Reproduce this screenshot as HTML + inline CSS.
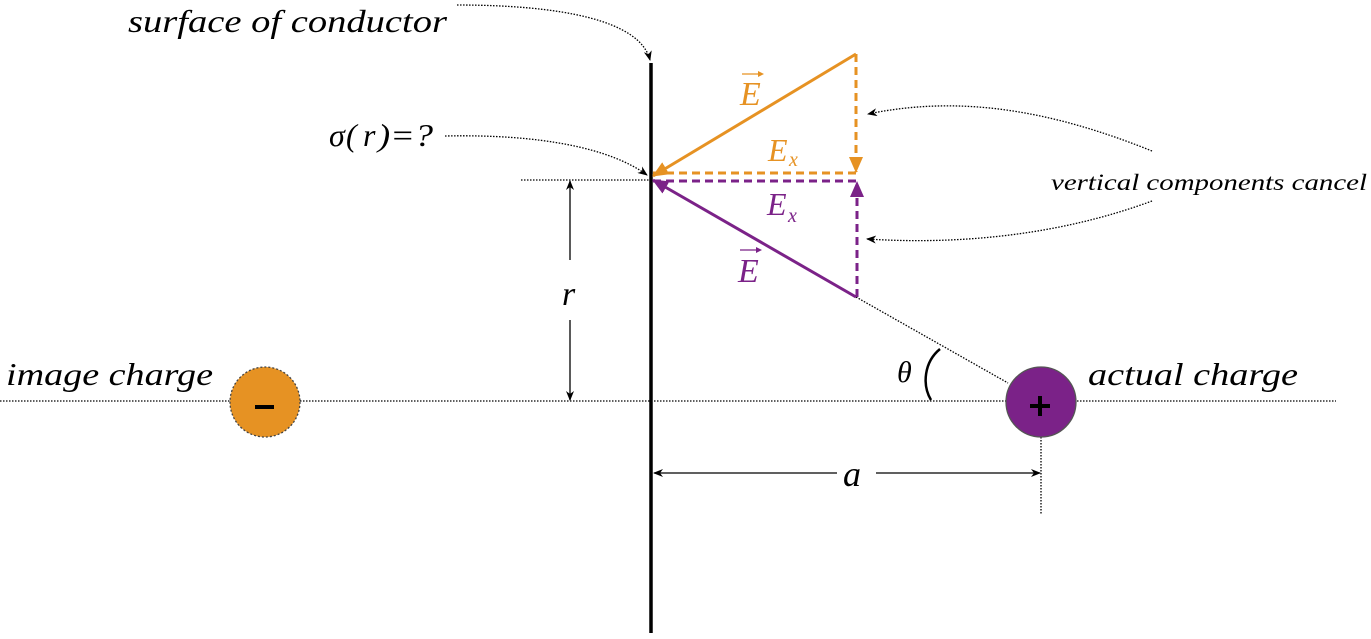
<!DOCTYPE html>
<html><head><meta charset="utf-8"><style>
html,body{margin:0;padding:0;background:#fff;}
svg{display:block;}
text{font-family:"Liberation Serif",serif;font-style:italic;}
</style></head><body>
<svg width="1371" height="639" viewBox="0 0 1371 639" xmlns="http://www.w3.org/2000/svg">
<defs>
<marker id="ab" markerWidth="10" markerHeight="8" refX="9" refY="4" orient="auto" markerUnits="userSpaceOnUse"><path d="M0,0 L10,4 L0,8 L3,4 z" fill="#000"/></marker>
<marker id="ao" markerWidth="16" markerHeight="14" refX="15" refY="7" orient="auto" markerUnits="userSpaceOnUse"><path d="M0,0 L16,7 L0,14 z" fill="#e69223"/></marker>
<marker id="ap" markerWidth="16" markerHeight="14" refX="15" refY="7" orient="auto" markerUnits="userSpaceOnUse"><path d="M0,0 L16,7 L0,14 z" fill="#7b2288"/></marker>
</defs>
<g stroke="#000" stroke-width="1.3" stroke-dasharray="1.5,1.5" fill="none">
<line x1="0" y1="401" x2="1336" y2="401"/>
<line x1="521" y1="180" x2="651" y2="180"/>
<line x1="856" y1="297" x2="1008" y2="383"/>
<line x1="1041" y1="428" x2="1041" y2="515"/>
<path d="M457,5 C560,5 640,20 650,60" marker-end="url(#ab)"/>
<path d="M445,136 C540,134 610,148 647,175" marker-end="url(#ab)"/>
<path d="M1152,151 C1050,110 960,95 868,114" marker-end="url(#ab)"/>
<path d="M1152,201 C1060,235 960,245 867,239" marker-end="url(#ab)"/>
</g>
<line x1="651" y1="63" x2="651" y2="633" stroke="#000" stroke-width="3.5"/>
<line x1="570" y1="260" x2="570" y2="181" stroke="#000" stroke-width="1.3" marker-end="url(#ab)"/>
<line x1="570" y1="320" x2="570" y2="400" stroke="#000" stroke-width="1.3" marker-end="url(#ab)"/>
<text x="562" y="305" font-size="34">r</text>
<line x1="837" y1="473" x2="654" y2="473" stroke="#000" stroke-width="1.3" marker-end="url(#ab)"/>
<line x1="876" y1="473" x2="1040" y2="473" stroke="#000" stroke-width="1.3" marker-end="url(#ab)"/>
<text x="843" y="486" font-size="36">a</text>
<line x1="856" y1="54" x2="653" y2="176" stroke="#e69223" stroke-width="3" marker-end="url(#ao)"/>
<line x1="856" y1="54" x2="856" y2="172" stroke="#e69223" stroke-width="3" stroke-dasharray="8,5" marker-end="url(#ao)"/>
<line x1="856" y1="173" x2="652" y2="173" stroke="#e69223" stroke-width="3" stroke-dasharray="8,5"/>
<line x1="856" y1="297" x2="653" y2="180" stroke="#7b2288" stroke-width="3" marker-end="url(#ap)"/>
<line x1="857" y1="297" x2="857" y2="182" stroke="#7b2288" stroke-width="3" stroke-dasharray="8,5" marker-end="url(#ap)"/>
<line x1="856" y1="181" x2="652" y2="181" stroke="#7b2288" stroke-width="3" stroke-dasharray="8,5"/>
<g fill="#e69223">
<text x="740" y="105" font-size="34">E</text>
<line x1="742" y1="74" x2="762" y2="74" stroke="#e69223" stroke-width="1.3"/><path d="M758,71 L764,74 L758,77z"/>
<text x="768" y="161" font-size="32">E</text><text x="789" y="166" font-size="20">x</text>
</g>
<g fill="#7b2288">
<text x="767" y="215" font-size="32">E</text><text x="788" y="222" font-size="20">x</text>
<text x="738" y="282" font-size="34">E</text>
<line x1="740" y1="250" x2="760" y2="250" stroke="#7b2288" stroke-width="1.3"/><path d="M756,247 L762,250 L756,253z"/>
</g>
<text x="128" y="32" font-size="32" textLength="319" lengthAdjust="spacingAndGlyphs">surface of conductor</text>
<text x="329" y="146" font-size="32" font-style="normal">σ</text>
<text x="346" y="146" font-size="32" font-style="normal">(</text>
<text x="363" y="146" font-size="32">r</text>
<text x="378" y="146" font-size="32" font-style="normal" textLength="55" lengthAdjust="spacingAndGlyphs">)=?</text>
<text x="1051" y="190" font-size="23" textLength="316" lengthAdjust="spacingAndGlyphs">vertical components cancel</text>
<text x="6" y="385" font-size="32" textLength="207" lengthAdjust="spacingAndGlyphs">image charge</text>
<text x="1088" y="385" font-size="32" textLength="210" lengthAdjust="spacingAndGlyphs">actual charge</text>
<text x="897" y="382" font-size="30">θ</text>
<path d="M940,349 C924,362 922,385 931,400" stroke="#000" stroke-width="2.5" fill="none"/>
<circle cx="265" cy="402" r="35" fill="#e69223" stroke="#444" stroke-width="1.3" stroke-dasharray="2,2"/>
<rect x="255" y="405" width="19" height="4" fill="#000"/>
<circle cx="1041" cy="402" r="35" fill="#7b2288" stroke="#555" stroke-width="1.3"/>
<rect x="1030" y="404" width="20" height="4" fill="#000"/>
<rect x="1038" y="396" width="4" height="20" fill="#000"/>
</svg>
</body></html>
